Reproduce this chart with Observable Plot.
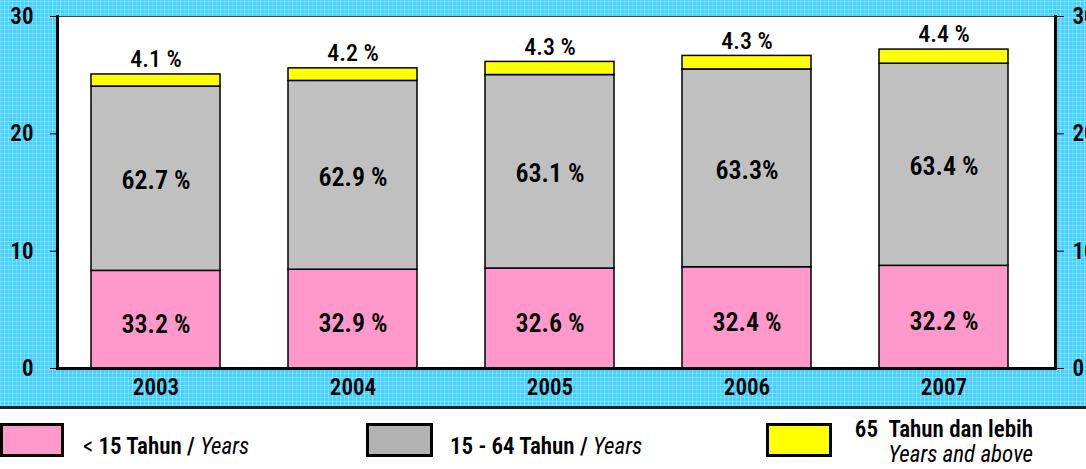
<!DOCTYPE html>
<html><head><meta charset="utf-8">
<script src="https://cdn.jsdelivr.net/npm/d3@7"></script>
<script src="https://cdn.jsdelivr.net/npm/@observablehq/plot@0.6"></script>
<style>
body{margin:0;background:#fff;font-family:"Liberation Sans Narrow","Arial Narrow","Roboto Condensed","DejaVu Sans Condensed",sans-serif;color:#000;}
#chart{width:1086px;height:406px;border-bottom:3px solid #222;overflow:hidden;
background-color:#42d2fd;
background-image:
 repeating-linear-gradient(0deg, rgba(255,255,255,.3) 0 1px, transparent 1px 4px),
 repeating-linear-gradient(90deg, rgba(255,255,255,.3) 0 1px, transparent 1px 4px),
 repeating-linear-gradient(0deg, rgba(0,170,240,.22) 0 1px, transparent 1px 8px),
 repeating-linear-gradient(90deg, rgba(0,170,240,.22) 0 1px, transparent 1px 8px);}
#legend{position:relative;height:60px;width:1086px;}
.sw{position:absolute;top:14px;height:34px;box-sizing:border-box;border:3px solid #000;}
.lt{position:absolute;white-space:nowrap;}
.lt b{font-weight:600}
.lt i{font-weight:normal;font-style:italic}
</style></head>
<body>
<div id="chart"></div>
<div id="legend">
  <div class="sw" style="left:0;width:64px;background:#ff99cc"></div>
  <div class="lt" style="left:83px;top:26px;font-size:23px;line-height:1"><span style="font-weight:normal">&lt;</span> <b>15 Tahun /</b> <i>Years</i></div>
  <div class="sw" style="left:366px;width:67px;background:#b2b2b2"></div>
  <div class="lt" style="left:450px;top:26px;font-size:23px;line-height:1"><b>15 - 64 Tahun /</b> <i>Years</i></div>
  <div class="sw" style="left:766px;width:66px;background:#ffff00"></div>
  <div class="lt" style="right:53px;top:8px;font-size:23px;line-height:25px;text-align:right"><b>65&nbsp;&nbsp;Tahun dan lebih</b><br><i>Years and above</i></div>
</div>
<script>
const years = ["2003","2004","2005","2006","2007"];
const groups = ["< 15 Tahun","15 - 64 Tahun","65 Tahun dan lebih"];
const young = [8.32, 8.42, 8.52, 8.63, 8.75];
const working = [15.71, 16.09, 16.49, 16.86, 17.23];
const old = [1.03, 1.07, 1.12, 1.15, 1.20];
const youngPct = ["33.2 %","32.9 %","32.6 %","32.4 %","32.2 %"];
const workingPct = ["62.7 %","62.9 %","63.1 %","63.3%","63.4 %"];
const oldPct = ["4.1 %","4.2 %","4.3 %","4.3 %","4.4 %"];
const yTicks = [0, 10, 20, 30];
const colors = ["#ff99cc","#c0c0c0","#ffff00"];

const rows = years.flatMap((yr, i) => [
  {year: yr, group: groups[0], value: young[i]},
  {year: yr, group: groups[1], value: working[i]},
  {year: yr, group: groups[2], value: old[i]}
]);
const youngLab = years.map((yr, i) => ({year: yr, y: young[i] / 2, t: youngPct[i]}));
const workLab = years.map((yr, i) => ({year: yr, y: young[i] + working[i] / 2, t: workingPct[i]}));
const oldLab = years.map((yr, i) => ({year: yr, y: young[i] + working[i] + old[i], t: oldPct[i]}));

const font = '"Liberation Sans Narrow","Arial Narrow","Roboto Condensed","DejaVu Sans Condensed",sans-serif';

const chart = Plot.plot({
  width: 1086, height: 406,
  marginLeft: 57, marginRight: 31, marginTop: 16, marginBottom: 38,
  style: {background: "transparent", color: "#000", fontFamily: font, overflow: "visible"},
  x: {domain: years, paddingInner: 0.343, paddingOuter: 0.195, align: 0.42, axis: null},
  y: {domain: [0, 30], axis: null},
  color: {domain: groups, range: colors},
  marks: [
    Plot.frame({fill: "white", stroke: "#444", strokeWidth: 1}),
    Plot.barY(rows, {x: "year", y: "value", fill: "group", stroke: "#000", strokeWidth: 1.5, order: groups}),
    Plot.text(youngLab, {x: "year", y: "y", text: "t", dy: 5, fontSize: 26, fontWeight: 600, fill: "#000"}),
    Plot.text(workLab, {x: "year", y: "y", text: "t", dy: 2, fontSize: 26, fontWeight: 600, fill: "#000"}),
    Plot.text(oldLab, {x: "year", y: "y", text: "t", dy: -15, fontSize: 24, fontWeight: 500, fill: "#000"}),
    Plot.frame({anchor: "left", stroke: "#000", strokeWidth: 3}),
    Plot.frame({anchor: "right", stroke: "#000", strokeWidth: 3}),
    Plot.frame({anchor: "bottom", stroke: "#000", strokeWidth: 3}),
    Plot.axisY(yTicks, {anchor: "left", tickSize: 7, tickPadding: 17, fontSize: 23, fontWeight: 600, label: null, stroke: "#000"}),
    Plot.axisY(yTicks, {anchor: "right", tickSize: 8, tickPadding: 9, fontSize: 23, fontWeight: 600, label: null, stroke: "#000"}),
    Plot.axisX({tickSize: 0, tickPadding: 10, fontSize: 23, fontWeight: 600, label: null})
  ]
});
document.getElementById("chart").appendChild(chart);
</script>
</body></html>
